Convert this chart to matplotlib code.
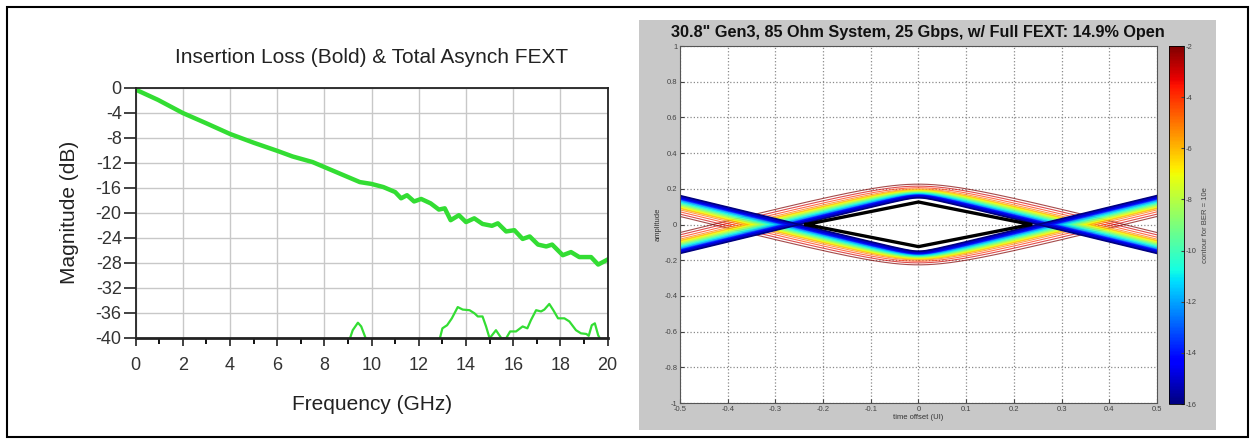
import numpy as np
import matplotlib
matplotlib.use("Agg")
import matplotlib.pyplot as plt
from matplotlib.patches import Rectangle
from matplotlib import cm, colors

plt.rcParams['font.family'] = ['Liberation Sans', 'DejaVu Sans']
plt.rcParams['axes.unicode_minus'] = False

# ---- left chart: insertion loss (bold) and total async FEXT ----
il_freq = [0, 0.95, 2, 3, 4, 5, 6, 6.65, 7.5, 8, 8.5, 9, 9.5, 10, 10.5, 11,
           11.25, 11.5, 11.8, 12.1, 12.5, 12.85, 13.1, 13.35, 13.7, 14, 14.35,
           14.7, 15.1, 15.35, 15.7, 16.05, 16.4, 16.7, 17.05, 17.4, 17.65,
           18.1, 18.45, 18.8, 19.3, 19.6, 20]
il_db = [-0.3, -1.95, -4.05, -5.7, -7.4, -8.8, -10.1, -11, -11.9, -12.7, -13.5,
         -14.3, -15.1, -15.4, -15.9, -16.7, -17.7, -17.2, -18.2, -17.8, -18.5,
         -19.5, -19.3, -21.2, -20.4, -21.5, -20.9, -21.8, -22.1, -21.7, -23,
         -22.8, -24.2, -23.8, -25.1, -25.4, -25.1, -26.8, -26.3, -27.1, -27.1,
         -28.3, -27.5]

fext_freq = [8.9, 9.04, 9.2, 9.42, 9.56, 9.75, 9.9,
             12.7, 12.88, 13.0, 13.2, 13.4, 13.65, 13.86, 14.15, 14.36, 14.5,
             14.7, 14.85, 15.0, 15.27, 15.5, 15.7, 15.87, 16.12, 16.4, 16.6,
             16.75, 16.97, 17.18, 17.32, 17.53, 17.7, 17.9, 18.17, 18.38,
             18.66, 18.87, 19.1, 19.2, 19.33, 19.46, 19.6, 19.7, 19.85]
fext_db = [-42, -40.6, -38.8, -37.6, -38.2, -40.1, -42,
           -42, -40.3, -38.5, -38, -36.9, -35.1, -35.5, -35.6, -36.1, -36.6,
           -36.6, -38.2, -40.1, -38.8, -40.1, -40.1, -39, -39, -38.2, -38.5,
           -37.2, -35.6, -35.8, -35.5, -34.6, -35.6, -36.9, -36.9, -37.4,
           -38.8, -39.3, -39.4, -39.7, -38, -37.7, -39.6, -40.3, -42]

# ---- right chart: BER contour eye ----
ber_levels = [-16, -15, -14, -13, -12, -11, -10, -9, -8, -7, -6, -5, -4, -3, -2]
eye_top = [0.150, 0.155, 0.160, 0.164, 0.168, 0.172, 0.176, 0.180, 0.184,
           0.188, 0.193, 0.199, 0.206, 0.215, 0.226]
eye_edge = [-0.162, -0.155, -0.148, -0.141, -0.134, -0.127, -0.120, -0.113,
            -0.106, -0.099, -0.091, -0.082, -0.071, -0.058, -0.045]
eye_round = [0.02, 0.025, 0.03, 0.035, 0.04, 0.045, 0.05, 0.055, 0.06, 0.065,
             0.07, 0.08, 0.09, 0.10, 0.11]
mask_t = [-0.236, 0, 0.236, 0, -0.236]
mask_v = [0, 0.126, 0, -0.124, 0]

W, H = 1255, 444
fig = plt.figure(figsize=(W / 100, H / 100), dpi=100)

# outer frame and grey matlab panel
fig.add_artist(Rectangle((7 / W, 1 - 437 / H), 1241 / W, 430 / H,
                         transform=fig.transFigure, fill=False, lw=1.5, ec='black'))
fig.add_artist(Rectangle((639 / W, 1 - 430 / H), 577 / W, 410 / H,
                         transform=fig.transFigure, fc='#c8c8c8', ec='none', zorder=0))

green = '#33dd33'
ax1 = fig.add_axes([135.6 / W, 1 - 337.7 / H, 472 / W, 250 / H])
ax1.plot(il_freq, il_db, color=green, lw=3.2, solid_joinstyle='round')
ax1.plot(fext_freq, fext_db, color=green, lw=1.6)
ax1.set_xlim(0, 20)
ax1.set_ylim(-40, 0)
ax1.set_xticks(range(0, 21, 2))
ax1.set_xticks(range(1, 20, 2), minor=True)
ax1.set_yticks(range(-40, 1, 4))
ax1.grid(True, which='major', color='#c8c8c8', lw=1)
ax1.tick_params(axis='x', which='major', direction='out', length=6, width=1.3,
                labelsize=13, pad=8, colors='#333333')
ax1.tick_params(axis='x', which='minor', direction='out', length=4, width=1.3)
ax1.tick_params(axis='y', direction='out', length=9, width=1.3, labelsize=13,
                pad=1, colors='#333333')
for s in ax1.spines.values():
    s.set_linewidth(1.3)
    s.set_color('#222222')
ax1.spines['bottom'].set_linewidth(2)
ax1.set_title('Insertion Loss (Bold) & Total Asynch FEXT', fontsize=15, pad=18,
              color='#222222')
ax1.set_xlabel('Frequency (GHz)', fontsize=15, labelpad=15, color='#222222')
ax1.set_ylabel('Magnitude (dB)', fontsize=15, labelpad=12, color='#222222')

# eye diagram
ax2 = fig.add_axes([680 / W, 1 - 403 / H, 477 / W, 357 / H])
ax2.set_facecolor('white')
norm = colors.Normalize(vmin=-16, vmax=-2)
cmap = plt.get_cmap('jet')
t = np.linspace(-0.5, 0.5, 801)
for lev, h, e, r in reversed(list(zip(ber_levels, eye_top, eye_edge, eye_round))):
    prof = h + (e - h) * (np.sqrt(t ** 2 + r ** 2) - r) / (np.sqrt(0.25 + r ** 2) - r)
    if lev == -16:
        lw, al = 1.2, 1.0
    elif lev <= -14:
        lw, al = 2.0, 1.0
    elif lev <= -6:
        lw, al = 1.3, 0.85
    else:
        lw, al = 0.8, 0.7
    ax2.plot(t, prof, color=cmap(norm(lev)), lw=lw, alpha=al)
    ax2.plot(t, -prof, color=cmap(norm(lev)), lw=lw, alpha=al)
ax2.plot(mask_t, mask_v, color='black', lw=2.4)
ax2.set_xlim(-0.5, 0.5)
ax2.set_ylim(-1, 1)
xt = np.round(np.arange(-0.5, 0.51, 0.1), 1) + 0.0
yt = np.round(np.arange(-1, 1.01, 0.2), 1) + 0.0
ax2.set_xticks(xt)
ax2.set_yticks(yt)
ax2.set_xticklabels(['%g' % v for v in xt])
ax2.set_yticklabels(['%g' % v for v in yt])
ax2.grid(True, ls=':', color='#8a8a8a', lw=0.9)
ax2.tick_params(direction='in', length=3, labelsize=5.5, colors='#444444', pad=2)
for s in ax2.spines.values():
    s.set_linewidth(0.8)
    s.set_color('#555555')
ax2.set_xlabel('time offset (UI)', fontsize=5.5, color='#333333', labelpad=1)
ax2.set_ylabel('amplitude', fontsize=5.5, color='#333333', labelpad=2)

cax = fig.add_axes([1169 / W, 1 - 404 / H, 15 / W, 358 / H])
sm = cm.ScalarMappable(norm=norm, cmap=cmap)
cb = fig.colorbar(sm, cax=cax, ticks=range(-16, -1, 2))
cb.outline.set_linewidth(0.6)
cax.tick_params(direction='in', length=2, labelsize=5.5, colors='#444444', pad=1)
cb.set_label('contour for BER = 10e', fontsize=5.5, color='#444444', labelpad=4)

fig.text(918 / W, 1 - 33 / H,
         '30.8" Gen3, 85 Ohm System, 25 Gbps, w/ Full FEXT: 14.9% Open',
         ha='center', va='center', fontsize=11.7, fontweight='bold', color='#111111')

fig.savefig('out.png', dpi=100)
